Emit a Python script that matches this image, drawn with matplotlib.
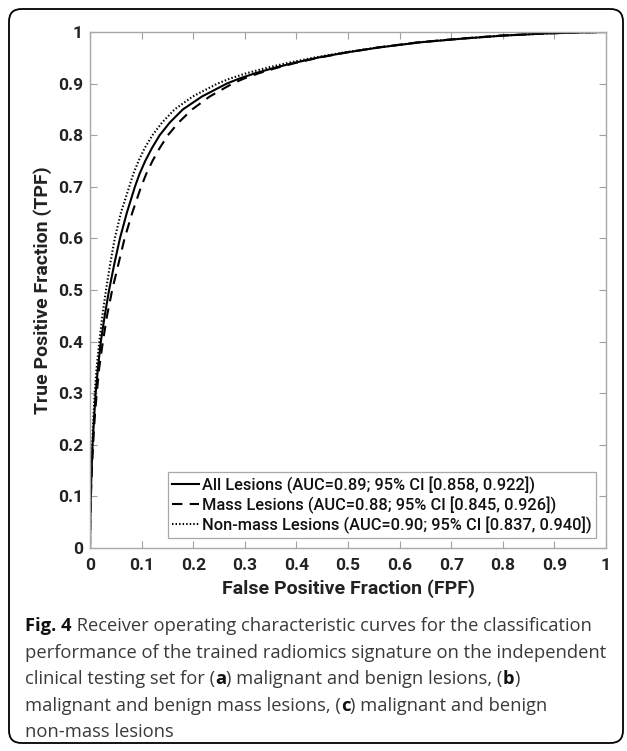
import matplotlib
matplotlib.use("Agg")
import matplotlib.pyplot as plt
from matplotlib.patches import FancyBboxPatch

# ---- data ----
tpf_levels = [0, 0.05, 0.1, 0.15, 0.2, 0.25, 0.3, 0.35, 0.4, 0.45, 0.5, 0.55, 0.6, 0.65,
              0.7, 0.725, 0.75, 0.775, 0.8, 0.825, 0.85, 0.875, 0.9, 0.91, 0.92, 0.93,
              0.94, 0.95, 0.96, 0.97, 0.98, 0.987, 0.993, 0.997, 0.999, 1.0]

all_fpf = [0, 0.0005, 0.0015, 0.003, 0.005, 0.0078, 0.011, 0.0155, 0.021, 0.0285, 0.037,
           0.047, 0.058, 0.0715, 0.087, 0.096, 0.107, 0.12, 0.135, 0.155, 0.18, 0.217,
           0.265, 0.29, 0.32, 0.355, 0.395, 0.44, 0.495, 0.56, 0.64, 0.72, 0.80, 0.88,
           0.94, 1.0]

mass_fpf = [0, 0.0006, 0.0018, 0.0035, 0.006, 0.009, 0.013, 0.018, 0.025, 0.033, 0.043,
            0.055, 0.067, 0.082, 0.099, 0.109, 0.121, 0.135, 0.151, 0.172, 0.198, 0.232,
            0.276, 0.299, 0.327, 0.36, 0.398, 0.442, 0.495, 0.558, 0.636, 0.715, 0.795,
            0.875, 0.94, 1.0]

nonmass_fpf = [0, 0.0004, 0.0012, 0.0025, 0.0042, 0.0065, 0.009, 0.013, 0.018, 0.024, 0.031,
               0.039, 0.048, 0.06, 0.076, 0.084, 0.094, 0.106, 0.121, 0.14, 0.164, 0.199,
               0.247, 0.272, 0.303, 0.34, 0.383, 0.432, 0.49, 0.557, 0.638, 0.72, 0.80,
               0.88, 0.94, 1.0]

labels = ["All Lesions (AUC=0.89; 95% CI [0.858, 0.922])",
          "Mass Lesions (AUC=0.88; 95% CI [0.845, 0.926])",
          "Non-mass Lesions (AUC=0.90; 95% CI [0.837, 0.940])"]
ticks = [0, 0.1, 0.2, 0.3, 0.4, 0.5, 0.6, 0.7, 0.8, 0.9, 1]
tick_labels = ["0", "0.1", "0.2", "0.3", "0.4", "0.5", "0.6", "0.7", "0.8", "0.9", "1"]
xlabel = "False Positive Fraction (FPF)"
ylabel = "True Positive Fraction (TPF)"

caption_lines = [
    [("Fig. 4", True), (" Receiver operating characteristic curves for the classification", False)],
    [("performance of the trained radiomics signature on the independent", False)],
    [("clinical testing set for (", False), ("a", True), (") malignant and benign lesions, (", False),
     ("b", True), (")", False)],
    [("malignant and benign mass lesions, (", False), ("c", True), (") malignant and benign", False)],
    [("non-mass lesions", False)],
]

# ---- figure ----
W, H = 627, 751
fig = plt.figure(figsize=(W / 100, H / 100), dpi=100)

# rounded frame
frame = FancyBboxPatch((9 / W, 8 / H), (623 - 9) / W, (H - 8 - 9) / H,
                       boxstyle="round,pad=0,rounding_size=0.02",
                       transform=fig.transFigure, fill=False, edgecolor="black",
                       linewidth=1.3, mutation_aspect=W / H)
fig.patches.append(frame)

ax_l, ax_r, ax_t, ax_b = 90, 606, 32, 548
ax = fig.add_axes([ax_l / W, (H - ax_b) / H, (ax_r - ax_l) / W, (ax_b - ax_t) / H])

tick_font = dict(family="Roboto", weight="bold", size=12.5)
ax.plot(all_fpf, tpf_levels, color="black", lw=1.5, ls="-", label=labels[0])
ax.plot(mass_fpf, tpf_levels, color="black", lw=1.5, ls=(0, (5, 3.5)), label=labels[1])
ax.plot(nonmass_fpf, tpf_levels, color="black", lw=1.5, ls=(0, (0.7, 1.0)), label=labels[2])

ax.set_xlim(0, 1)
ax.set_ylim(0, 1)
ax.set_xticks(ticks)
ax.set_yticks(ticks)
ax.set_xticklabels(tick_labels, fontdict=tick_font)
ax.set_yticklabels(tick_labels, fontdict=tick_font)
ax.tick_params(direction="in", length=5, width=0.8, color="#a0a0a0",
               top=True, right=True, labelcolor="#222222")
ax.tick_params(axis="x", pad=7)
ax.tick_params(axis="y", pad=5)
for s in ax.spines.values():
    s.set_color("#a8a8a8")
    s.set_linewidth(1.0)

ax.set_xlabel(xlabel, family="Roboto", weight="bold", size=14, color="#222222", labelpad=5)
ax.set_ylabel(ylabel, family="Roboto", weight="bold", size=14, color="#222222", labelpad=4)

leg = ax.legend(loc="lower right", bbox_to_anchor=(0.98, 0.02), borderaxespad=0,
                prop=dict(family="Roboto", weight="medium", size=11.8),
                handlelength=1.6, handletextpad=0.2, borderpad=0.25, labelspacing=0.15,
                fancybox=False, framealpha=1, edgecolor="#a8a8a8")
leg.get_frame().set_linewidth(0.9)
for t in leg.get_texts():
    t.set_color("#111111")

# ---- caption with mixed weights ----
fig.canvas.draw()
renderer = fig.canvas.get_renderer()
cap_size = 13.2
cap_family = "Open Sans"


def seg_width(s, bold):
    t = fig.text(0, 0, s, family=cap_family, size=cap_size,
                 weight="bold" if bold else "normal")
    w = t.get_window_extent(renderer).width
    t.remove()
    return w


def full_width(s, bold):
    # include leading/trailing spaces
    wa = seg_width("|" + s + "|", bold)
    wb = seg_width("||", bold)
    return wa - wb


x0 = 25
y0 = 626
dy = 26.6
for i, line in enumerate(caption_lines):
    x = x0
    y = y0 + i * dy
    for s, bold in line:
        fig.text(x / W, 1 - y / H, s, family=cap_family, size=cap_size,
                 weight="bold" if bold else "normal",
                 color="#111111" if bold else "#3a3a3a", va="center", ha="left")
        x += full_width(s, bold)

fig.savefig("out.png", dpi=100)
